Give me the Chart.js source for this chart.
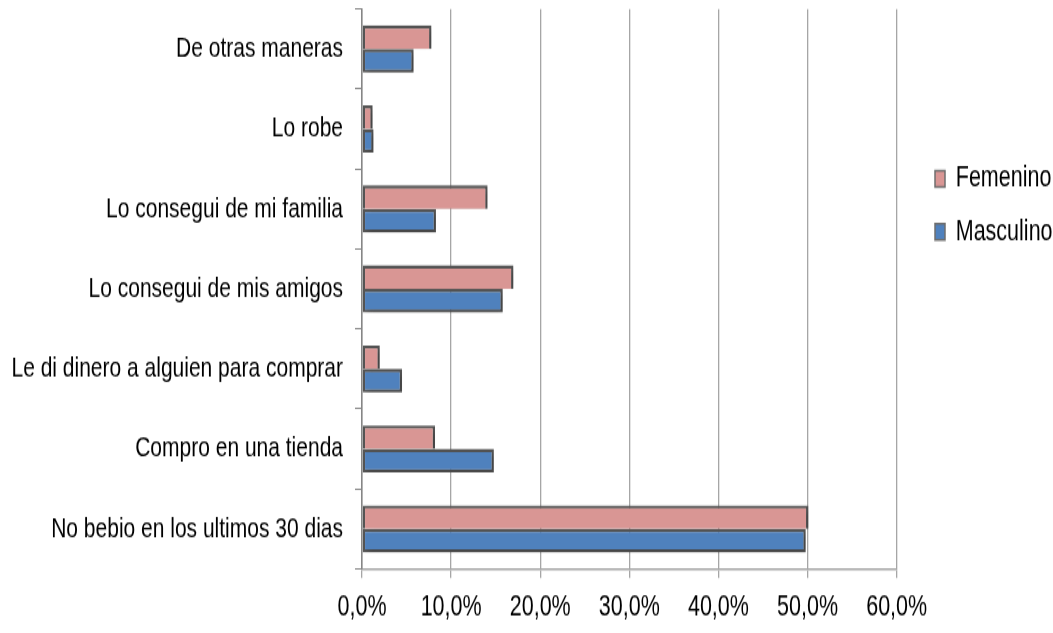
<!DOCTYPE html>
<html>
<head>
<meta charset="utf-8">
<script src="https://cdn.jsdelivr.net/npm/chart.js@4.4.0/dist/chart.umd.min.js"></script>
<style>
  html, body { margin: 0; padding: 0; background: #fff; }
  #page { width: 1053px; height: 633px; position: relative; overflow: hidden; }
  /* el original está estirado en vertical: se dibuja más bajo y se estira */
  #wrap { position: absolute; left: 0; top: 0; width: 1053px; height: 469px; transform: scaleY(1.3497); transform-origin: 0 0; }
</style>
</head>
<body>
<div id="page"><div id="wrap"><canvas id="myChart" width="1053" height="469"></canvas></div></div>
<script>
const categories = [
  'De otras maneras',
  'Lo robe',
  'Lo consegui de mi familia',
  'Lo consegui de mis amigos',
  'Le di dinero a alguien para comprar',
  'Compro en una tienda',
  'No bebio en los ultimos 30 dias'
];
const femenino = [7.8, 1.2, 14.1, 17.0, 2.0, 8.2, 50.1];
const masculino = [5.8, 1.3, 8.3, 15.8, 4.5, 14.8, 49.8];
const xTicks = [0, 10, 20, 30, 40, 50, 60];

const FONT = '"Liberation Sans", Arial, sans-serif';

// sombra suave de las barras
const shadowPlugin = {
  id: 'barShadow',
  beforeDatasetsDraw(chart) {
    const c = chart.ctx;
    c.save();
    c.shadowColor = 'rgba(0,0,0,0.22)';
    c.shadowBlur = 5;
    c.shadowOffsetX = 3;
    c.shadowOffsetY = 2;
  },
  afterDatasetsDraw(chart) {
    chart.ctx.restore();
  }
};

// mover la leyenda un poco a la derecha
const legendShift = {
  id: 'legendShift',
  afterLayout(chart) {
    const lg = chart.legend;
    const dx = 935 - (lg.left + lg.options.labels.padding);
    lg.left += dx;
    lg.right += dx;
  }
};

const ctx = document.getElementById('myChart').getContext('2d');
new Chart(ctx, {
  type: 'bar',
  data: {
    labels: categories,
    datasets: [
      {
        label: 'Femenino',
        data: femenino,
        backgroundColor: '#D99694',
        borderColor: '#555555',
        borderWidth: 2.4,
        borderSkipped: 'bottom',
        categoryPercentage: 0.59,
        barPercentage: 1.0
      },
      {
        label: 'Masculino',
        data: masculino,
        backgroundColor: '#4F81BD',
        borderColor: '#555555',
        borderWidth: 2.4,
        borderSkipped: false,
        categoryPercentage: 0.59,
        barPercentage: 1.0
      }
    ]
  },
  options: {
    indexAxis: 'y',
    responsive: false,
    animation: false,
    layout: { padding: { top: 6.7, right: 11, left: 0, bottom: 0 } },
    plugins: {
      tooltip: { enabled: false },
      legend: {
        position: 'right',
        align: 'start',
        title: { display: true, text: ' ', padding: { top: 85.2, bottom: 0 }, font: { size: 10 } },
        labels: {
          boxWidth: 10,
          boxHeight: 12,
          padding: 17.8,
          color: '#000',
          font: { family: FONT, size: 21.5 },
          generateLabels(chart) {
            return chart.data.datasets.map((ds, i) => ({
              text: ds.label,
              fillStyle: ds.backgroundColor,
              strokeStyle: '#6e6e6e',
              fontColor: '#000',
              lineWidth: 1.5,
              datasetIndex: i,
              hidden: false
            }));
          }
        }
      }
    },
    scales: {
      x: {
        min: 0,
        max: 60,
        afterBuildTicks(scale) {
          scale.ticks = xTicks.map(v => ({ value: v }));
        },
        afterFit(scale) { scale.height = 47.5; },
        ticks: {
          color: '#000',
          padding: 9,
          font: { family: FONT, size: 21.5 },
          callback: v => v.toFixed(1).replace('.', ',') + '%'
        },
        grid: { color: '#A6A6A6', lineWidth: 1.3, tickLength: 6.7 },
        border: { color: '#A6A6A6', width: 1.5 }
      },
      y: {
        afterFit(scale) {
          scale.width = 362;
          scale.paddingTop = 0;
          scale.paddingBottom = 0;
        },
        ticks: {
          color: '#000',
          padding: 12,
          font: { family: FONT, size: 21 }
        },
        grid: { drawOnChartArea: false, color: '#868686', tickLength: 7, offset: true },
        border: { color: '#868686', width: 1.5 }
      }
    }
  },
  plugins: [shadowPlugin, legendShift]
});
</script>
</body>
</html>
